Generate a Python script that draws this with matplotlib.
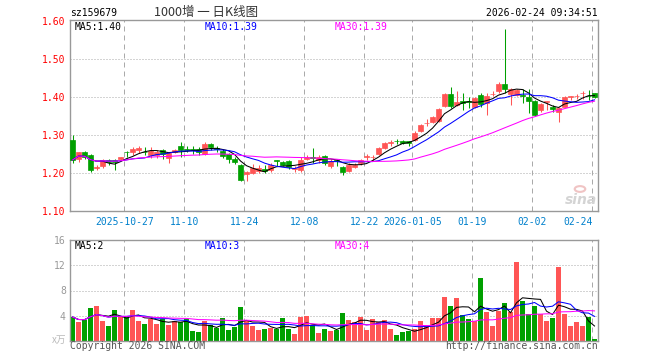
import numpy as np
import pandas as pd
import matplotlib
matplotlib.use('Agg')
import matplotlib.pyplot as plt
from matplotlib.patches import Circle

plt.rcParams['font.family'] = ['DejaVu Sans Mono']

# ---------------- data ----------------
symbol = "sz159679"
title = "1000增 一 日K线图"
timestamp = "2026-02-24 09:34:51"

opens = [1.287, 1.237, 1.2545, 1.247, 1.2125, 1.217, 1.233, 1.234, 1.236, 1.2555,
         1.2545, 1.2607, 1.256, 1.248, 1.248, 1.261, 1.239, 1.2545, 1.272, 1.263,
         1.262, 1.262, 1.25, 1.2766, 1.265, 1.258, 1.249, 1.237, 1.221, 1.1965,
         1.199, 1.2045, 1.21, 1.208, 1.234, 1.229, 1.232, 1.21, 1.208, 1.237,
         1.243, 1.2326, 1.245, 1.217, 1.233, 1.216, 1.204, 1.216, 1.2265, 1.243,
         1.242, 1.2485, 1.266, 1.28, 1.284, 1.285, 1.284, 1.288, 1.31, 1.331,
         1.335, 1.336, 1.376, 1.407, 1.378, 1.3886, 1.39, 1.375, 1.406, 1.384,
         1.408, 1.415, 1.435, 1.4088, 1.4044, 1.405, 1.40, 1.39, 1.365, 1.388,
         1.375, 1.362, 1.374, 1.401, 1.403, 1.411, 1.404, 1.41]
highs = [1.299, 1.2545, 1.257, 1.249, 1.221, 1.237, 1.236, 1.236, 1.243, 1.258,
         1.267, 1.27, 1.268, 1.268, 1.26, 1.263, 1.2545, 1.262, 1.282, 1.27,
         1.271, 1.267, 1.281, 1.28, 1.27, 1.262, 1.252, 1.243, 1.224, 1.205,
         1.224, 1.22, 1.221, 1.2255, 1.235, 1.231, 1.233, 1.217, 1.241, 1.246,
         1.266, 1.2475, 1.2475, 1.236, 1.237, 1.218, 1.225, 1.226, 1.237, 1.251,
         1.248, 1.268, 1.281, 1.288, 1.29, 1.286, 1.285, 1.31, 1.33, 1.341,
         1.35, 1.372, 1.411, 1.427, 1.417, 1.412, 1.40, 1.40, 1.41, 1.41,
         1.415, 1.439, 1.58, 1.424, 1.421, 1.421, 1.421, 1.392, 1.384, 1.39,
         1.38, 1.3735, 1.402, 1.4035, 1.409, 1.416, 1.418, 1.411]
lows = [1.227, 1.228, 1.237, 1.203, 1.208, 1.214, 1.221, 1.208, 1.234, 1.243,
        1.248, 1.252, 1.248, 1.239, 1.239, 1.236, 1.2255, 1.253, 1.243, 1.2545,
        1.249, 1.247, 1.248, 1.261, 1.256, 1.24, 1.227, 1.223, 1.179, 1.179,
        1.196, 1.199, 1.199, 1.2035, 1.218, 1.217, 1.211, 1.201, 1.201, 1.234,
        1.227, 1.227, 1.221, 1.214, 1.219, 1.1955, 1.203, 1.213, 1.222, 1.235,
        1.2325, 1.246, 1.264, 1.27, 1.275, 1.275, 1.272, 1.284, 1.307, 1.325,
        1.332, 1.334, 1.374, 1.372, 1.376, 1.3665, 1.371, 1.371, 1.374, 1.352,
        1.402, 1.41, 1.41, 1.38, 1.402, 1.384, 1.358, 1.351, 1.362, 1.367,
        1.362, 1.333, 1.373, 1.393, 1.395, 1.395, 1.393, 1.397]
closes = [1.234, 1.2545, 1.243, 1.208, 1.215, 1.234, 1.229, 1.229, 1.241, 1.254,
          1.2625, 1.266, 1.2545, 1.257, 1.2545, 1.249, 1.252, 1.261, 1.261, 1.261,
          1.26, 1.255, 1.2766, 1.2686, 1.264, 1.245, 1.237, 1.229, 1.1815, 1.2018,
          1.213, 1.2115, 1.206, 1.22, 1.23, 1.22, 1.2167, 1.212, 1.234, 1.243,
          1.239, 1.243, 1.227, 1.232, 1.23, 1.2035, 1.22, 1.221, 1.234, 1.244,
          1.243, 1.266, 1.278, 1.281, 1.283, 1.279, 1.279, 1.306, 1.326, 1.332,
          1.347, 1.369, 1.407, 1.376, 1.387, 1.384, 1.387, 1.397, 1.382, 1.4035,
          1.409, 1.435, 1.421, 1.422, 1.419, 1.403, 1.391, 1.353, 1.382, 1.389,
          1.368, 1.371, 1.399, 1.402, 1.404, 1.412, 1.402, 1.40]
volumes = [3.78, 2.98, 3.3, 5.2, 5.53, 3.14, 2.34, 4.9, 3.78, 3.78,
           4.9, 3.14, 2.66, 3.46, 2.66, 3.46, 2.5, 3.14, 2.98, 3.46,
           1.54, 1.38, 3.14, 2.5, 2.02, 3.62, 1.7, 2.18, 5.37, 3.3,
           2.34, 1.7, 1.86, 2.02, 1.86, 3.62, 1.86, 1.06, 3.78, 3.94,
           2.5, 1.22, 1.86, 1.54, 1.78, 4.47, 3.3, 2.98, 3.78, 1.7,
           3.46, 2.98, 3.3, 1.86, 0.9, 1.38, 1.54, 1.86, 3.14, 2.5,
           3.62, 3.62, 6.97, 5.53, 6.8, 4.1, 3.46, 3.14, 10.0, 4.57,
           2.34, 4.73, 6.0, 4.57, 12.55, 6.33, 4.26, 5.53, 4.26, 3.14,
           3.62, 11.76, 4.26, 2.34, 2.98, 2.34, 3.78, 0.27]

tick_idx = [9, 19, 29, 39, 49, 57, 67, 77, 87]
tick_labels = ["2025-10-27", "11-10", "11-24", "12-08", "12-22",
               "2026-01-05", "01-19", "02-02", "02-24"]
price_ticks = [1.10, 1.20, 1.30, 1.40, 1.50, 1.60]
vol_ticks = [4, 8, 12, 16]
ma_periods = [5, 10, 30]

# ---------------- style ----------------
RED = '#ff5555'
GREEN = '#00a000'
MA_COLORS = ['#000000', '#0000ff', '#ff00ff']
BORDER = '#999999'
GRID = '#aaaaaa'
W, H = 660, 360

fig = plt.figure(figsize=(W / 100, H / 100), dpi=100)
fig.patch.set_facecolor('white')


def rect(l, t, r, b):
    return [l / W, 1 - b / H, (r - l) / W, (b - t) / H]


def fx(px):
    return px / W


def fy(py):
    return 1 - py / H


ax = fig.add_axes(rect(70, 20, 597.7, 210.7))
axv = fig.add_axes(rect(70, 240.3, 597.7, 340.7))

n = len(closes)
x = np.arange(n)
o = np.array(opens); c = np.array(closes)
hi = np.array(highs); lo = np.array(lows)
v = np.array(volumes)
up = c >= o
colors = [RED if u else GREEN for u in up]

xlim = (-0.4167, 87.53)
grid_x = [i - 0.37 for i in tick_idx]

for a in (ax, axv):
    a.set_xlim(*xlim)
    for s in a.spines.values():
        s.set_color(BORDER)
        s.set_linewidth(1.0)
    for gx in grid_x:
        a.axvline(gx, color=GRID, lw=0.72, linestyle=(0, (5, 4)), zorder=0)
    a.tick_params(length=0)

# ---- price panel ----
ax.set_ylim(1.1, 1.6037)
for p in price_ticks[1:-1]:
    ax.axhline(p, color=GRID, lw=0.72, linestyle=(0, (1, 2)), zorder=0)

ax.vlines(x, lo, hi, colors=colors, lw=0.75, zorder=2)
ax.bar(x, np.abs(c - o), bottom=np.minimum(o, c), width=0.8, color=colors,
       edgecolor=colors, linewidth=0.5, zorder=3)

cs = pd.Series(c)
ma_vals = []
for per, col in zip(ma_periods, MA_COLORS):
    m = cs.rolling(per, min_periods=1).mean()
    ma_vals.append(m.iloc[-1])
    ax.plot(x, m, color=col, lw=0.75, zorder=4)

ax.set_yticks(price_ticks)
ax.set_yticklabels([f"{p:.2f}" for p in price_ticks], color='#ff0000', fontsize=7)
ax.tick_params(axis='y', pad=3)
ax.set_xticks(grid_x)
ax.set_xticklabels(tick_labels, color='#0080cc', fontsize=7)
ax.tick_params(axis='x', pad=4.5)
ax.get_xticklabels()[-1].set_horizontalalignment('right')

label_x = [75, 204.7, 335]
for (per, col, val, lx) in zip(ma_periods, MA_COLORS, ma_vals, label_x):
    fig.text(fx(lx), fy(26.5), f"MA{per}:{val:.2f}", color=col, fontsize=7,
             va='center', ha='left')

# ---- volume panel ----
axv.set_ylim(0, 16)
for t in vol_ticks[:-1]:
    axv.axhline(t, color=GRID, lw=0.72, linestyle=(0, (1, 2)), zorder=0)
axv.bar(x, v, width=0.8, color=colors, linewidth=0, zorder=2)
vs = pd.Series(v)
vma_vals = []
for per, col in zip(ma_periods, MA_COLORS):
    m = vs.rolling(per, min_periods=1).mean()
    vma_vals.append(m.iloc[-1])
    axv.plot(x, m, color=col, lw=0.75, zorder=4)
axv.set_yticks(vol_ticks)
axv.set_yticklabels([str(t) for t in vol_ticks], color='#999999', fontsize=7)
axv.tick_params(axis='y', pad=3)
axv.set_xticks([])
for (per, col, val, lx) in zip(ma_periods, MA_COLORS, vma_vals, label_x):
    fig.text(fx(lx), fy(246.3), f"MA{per}:{int(val)}", color=col, fontsize=7,
             va='center', ha='left')

# ---- header / footer texts ----
fig.text(fx(70), fy(12.8), symbol, fontsize=7, color='#000000', va='center', ha='left')
fig.text(fx(206), fy(12.5), title, fontsize=9, color='#333333', va='center', ha='center',
         family=['Noto Sans CJK SC', 'DejaVu Sans'])
fig.text(fx(597.7), fy(12.8), timestamp, fontsize=7, color='#000000', va='center', ha='right')
fig.text(fx(66), fy(340), "x万", fontsize=7, color='#bbbbbb', va='center', ha='right',
         family=['Noto Sans CJK SC', 'DejaVu Sans'])
fig.text(fx(70), fy(346), "Copyright 2026 SINA.COM", fontsize=7, color='#555555',
         va='center', ha='left')
fig.text(fx(597.7), fy(346), "http://finance.sina.com.cn", fontsize=7, color='#555555',
         va='center', ha='right')

# watermark
fig.text(fx(581), fy(200), "sina", fontsize=10, color='#d4d4d4', style='italic',
         weight='bold', va='center', ha='center', family='DejaVu Sans')
fig.patches.append(Circle((fx(580), fy(189)), 0.008, transform=fig.transFigure,
                          fill=False, edgecolor='#f0c4c4', lw=1.5))

fig.savefig('out.png', dpi=100)
